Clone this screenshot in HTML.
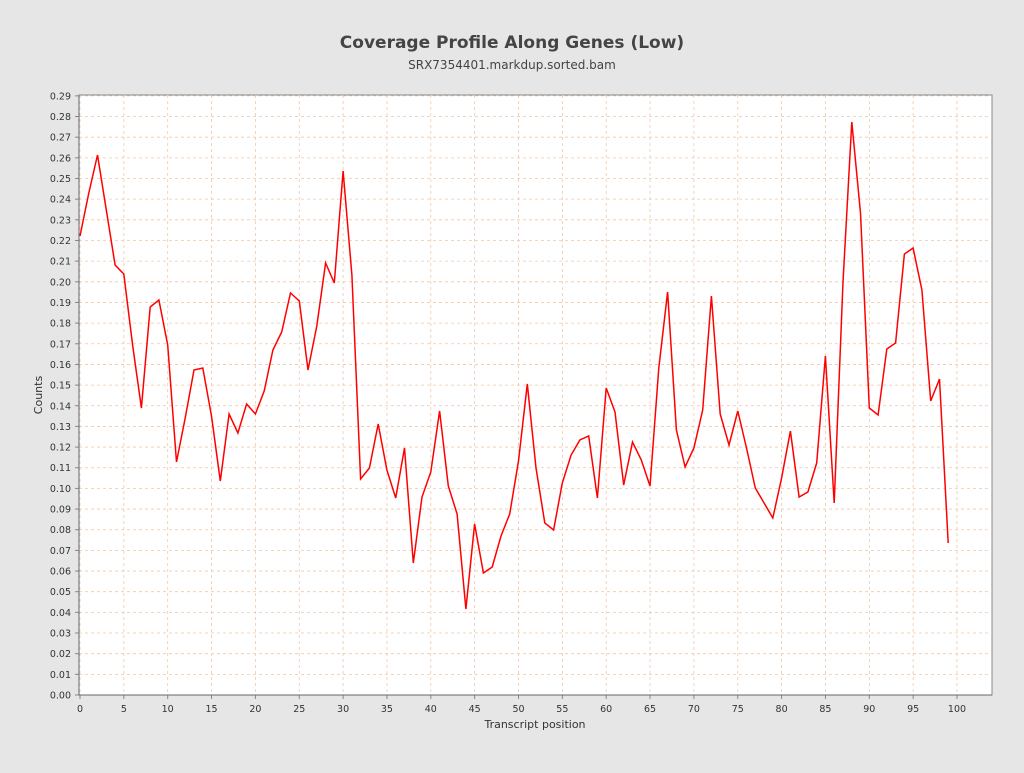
<!DOCTYPE html>
<html><head><meta charset="utf-8"><style>
body{margin:0;background:#e6e6e6;width:1024px;height:768px;overflow:hidden;font-family:"Liberation Sans","DejaVu Sans",sans-serif}
</style></head><body>
<svg id="s" width="1024" height="768" xmlns="http://www.w3.org/2000/svg" font-family="DejaVu Sans, Liberation Sans, sans-serif">
<rect width="1024" height="768" fill="#e6e6e6"/>
<text x="512" y="48" text-anchor="middle" font-size="17" font-weight="bold" fill="#444">Coverage Profile Along Genes (Low)</text>
<text x="512" y="69" text-anchor="middle" font-size="12" fill="#444">SRX7354401.markdup.sorted.bam</text>
<rect x="79" y="95" width="913" height="600" fill="#fff" stroke="#888"/>
<g id="g"></g>
<text x="535" y="728" text-anchor="middle" font-size="11" fill="#333">Transcript position</text>
<text transform="translate(42,395) rotate(-90)" text-anchor="middle" font-size="11" fill="#333">Counts</text>
</svg>
<script>
var g=document.getElementById('g'),h='';
var x0=80,dx=8.77,y0=695,dy=20.66;
for(var i=0;i<=100;i+=5){var x=x0+i*dx;h+='<line x1="'+x+'" y1="95" x2="'+x+'" y2="695" stroke="#f0c8a8" stroke-dasharray="3,3" stroke-width="0.8"/>';h+='<line x1="'+x+'" y1="695" x2="'+x+'" y2="699" stroke="#888"/><text x="'+x+'" y="712" text-anchor="middle" font-size="9.5" fill="#333">'+i+'</text>';}
for(var j=0;j<=29;j++){var y=y0-j*dy;h+='<line x1="79" y1="'+y+'" x2="992" y2="'+y+'" stroke="#f0c8a8" stroke-dasharray="3,3" stroke-width="0.8"/>';h+='<line x1="75" y1="'+y+'" x2="79" y2="'+y+'" stroke="#888"/><text x="71" y="'+(y+3.5)+'" text-anchor="end" font-size="9.5" fill="#333">'+(j/100).toFixed(2)+'</text>';}
var ys=[236,193,155,210,265,274,345,408,307,300,345,462,418,370,368,416,481,414,433,404,414,391,350,332,293,301,370,326,263,283,171,275,479,468,424,470,498,448,563,497,472,411,486,514,609,524,573,567,536,514,461,384,468,523,530,483,455,440,436,498,388,412,485,442,460,486,368,292,430,467,448,410,296,414,445,411,448,488,503,518,478,431,497,492,463,356,503,282,122,213,408,415,349,343,254,248,290,401,379,543];
var p=ys.map(function(y,i){return (x0+i*dx).toFixed(1)+','+y}).join(' ');
h+='<polyline points="'+p+'" fill="none" stroke="#f00" stroke-width="1.5"/>';
h+='<line x1="79" y1="695" x2="992" y2="695" stroke="#666"/><line x1="79" y1="95" x2="79" y2="695" stroke="#666"/>';
g.innerHTML=h;
</script>
</body></html>
